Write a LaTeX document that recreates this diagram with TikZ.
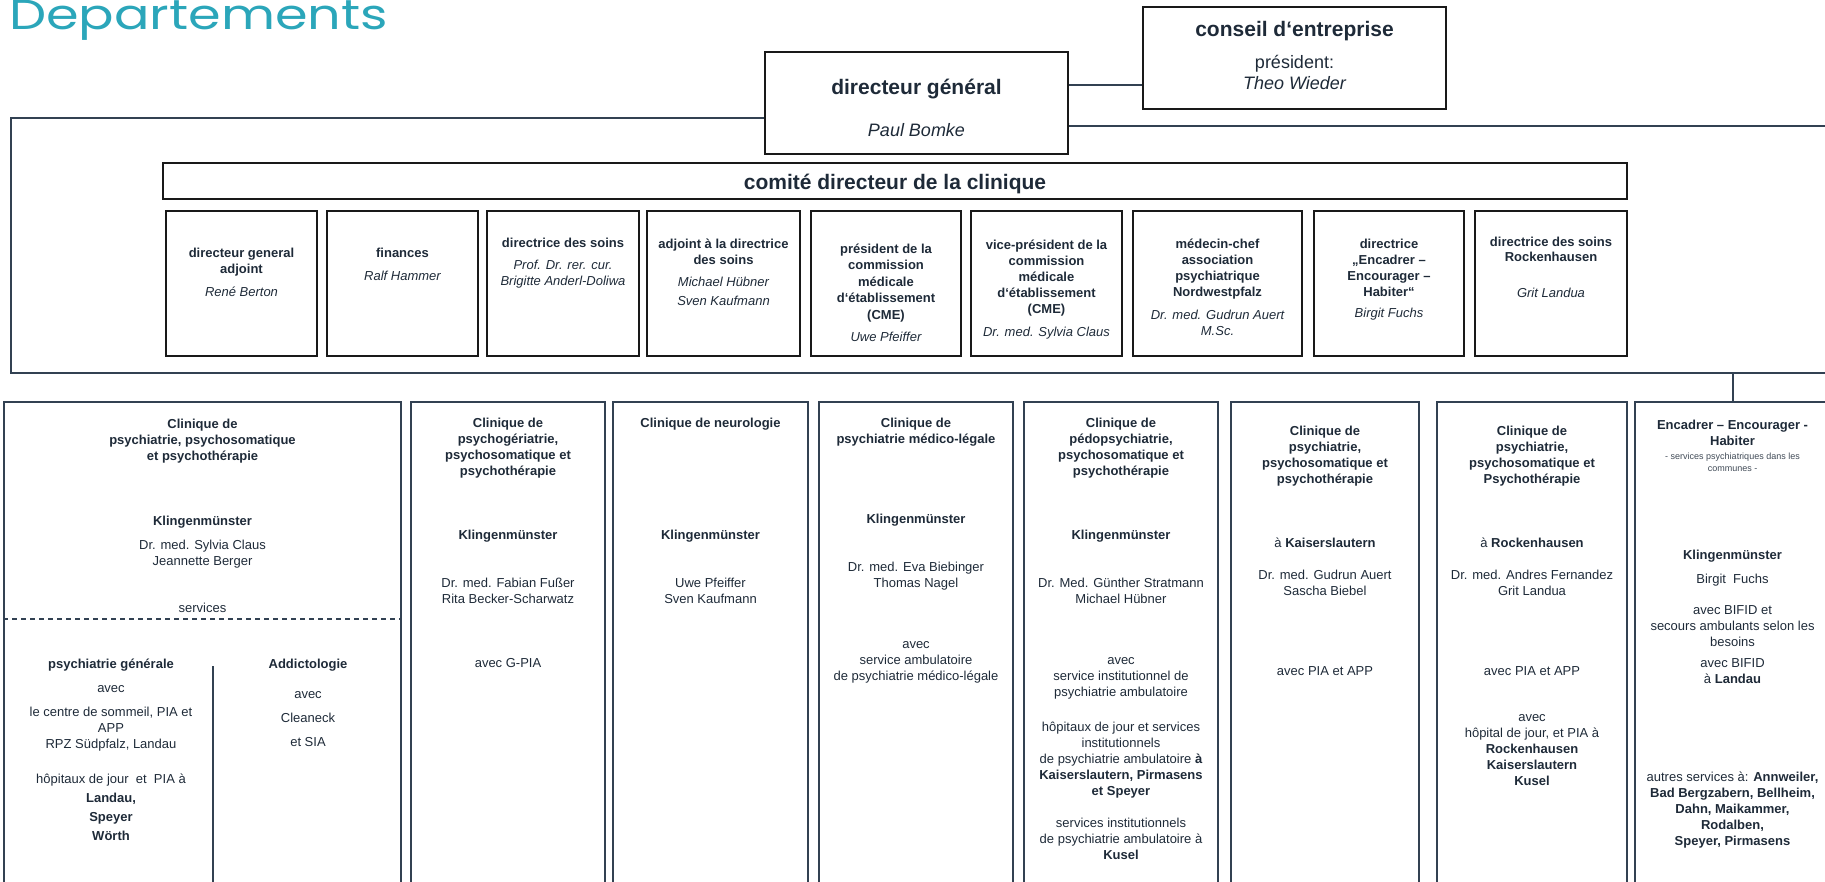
\documentclass[tikz,border=0pt]{standalone}
\usepackage{fontspec}
\setmainfont{Liberation Sans}
\newfontfamily\titlefont{Poppins}
\usetikzlibrary{fit, positioning}
\definecolor{inkSlate}{RGB}{30,42,56}
\definecolor{lineSlate}{RGB}{50,65,82}
\definecolor{titleTeal}{RGB}{43,166,186}

\begin{document}
\begin{tikzpicture}[
    x=1pt, y=-1pt,
    box/.style={rectangle, draw=black!90, line width=2pt, inner sep=0pt},
    colbox/.style={rectangle, draw=lineSlate, line width=2pt, inner sep=0pt},
    link/.style={draw=lineSlate, line width=2pt},
    txt/.style={inner sep=0pt, align=center, anchor=north, text=inkSlate, font=\fontsize{13}{16}\selectfont, execute at begin node={\rule{0pt}{10pt}}},
    bold/.style={txt, font=\fontsize{13}{16}\selectfont\bfseries},
    ital/.style={txt, font=\fontsize{13}{16}\selectfont\itshape},
    note/.style={inner sep=0pt, align=center, anchor=north, text=inkSlate!85, font=\fontsize{9}{12}\selectfont, execute at begin node={\rule{0pt}{7pt}}},
    big/.style={inner sep=0pt, anchor=base, text=inkSlate}
]
\useasboundingbox (0,0) rectangle (1825,881);

% Title
\node[anchor=base west, inner sep=0pt, text=titleTeal, font=\titlefont\fontsize{42}{42}\selectfont] (title) at (9,29) {\scalebox{1.25}[1]{Departements}};

% Top boxes
\node[box, fit={(765,52) (1068,154)}] (dg) {};
\node[box, fit={(1143,7) (1446,109)}] (cons) {};
\node[big, font=\fontsize{21}{21}\selectfont\bfseries] (dgT) at (916.5,94) {directeur général};
\node[big, font=\fontsize{18}{18}\selectfont\itshape] (dgN) at (916.5,136) {Paul Bomke};
\node[big, font=\fontsize{21}{21}\selectfont\bfseries] (consT) at (1294.5,36) {conseil d‘entreprise};
\node[big, font=\fontsize{18}{18}\selectfont] (consP) at (1294.5,68) {président:};
\node[big, font=\fontsize{18}{18}\selectfont\itshape] (consN) at (1294.5,89) {Theo Wieder};

% Comite
\node[box, fit={(163,163) (1627,199)}] (comite) {};
\node[big, font=\fontsize{21}{21}\selectfont\bfseries] (comT) at (895,189) {comité directeur de la clinique};

% Members of the comite
\node[box, fit={(166,211) (317,356)}] (m1) {};
\node[box, fit={(327,211) (478,356)}] (m2) {};
\node[box, fit={(487,211) (639,356)}] (m3) {};
\node[box, fit={(647,211) (800,356)}] (m4) {};
\node[box, fit={(811,211) (961,356)}] (m5) {};
\node[box, fit={(971,211) (1122,356)}] (m6) {};
\node[box, fit={(1133,211) (1302,356)}] (m7) {};
\node[box, fit={(1314,211) (1464,356)}] (m8) {};
\node[box, fit={(1475,211) (1627,356)}] (m9) {};

\node[bold, below=37.5pt of m1.north] (m1T) {directeur general\\adjoint};
\node[ital, below=76.5pt of m1.north] (m1N) {René Berton};
\node[bold, below=37.5pt of m2.north] (m2T) {finances};
\node[ital, below=60.5pt of m2.north] (m2N) {Ralf Hammer};
\node[bold, below=27.5pt of m3.north] (m3T) {directrice des soins};
\node[ital, below=49.5pt of m3.north] (m3N) {Prof. Dr. rer. cur.\\Brigitte Anderl-Doliwa};
\node[bold, below=28.5pt of m4.north] (m4T) {adjoint à la directrice\\des soins};
\node[ital, font=\fontsize{13}{19}\selectfont\itshape, below=66.5pt of m4.north] (m4N) {Michael Hübner\\Sven Kaufmann};
\node[bold, font=\fontsize{13}{16.5}\selectfont\bfseries, below=33.5pt of m5.north] (m5T) {président de la\\commission\\médicale\\d‘établissement\\(CME)};
\node[ital, below=121.5pt of m5.north] (m5N) {Uwe Pfeiffer};
\node[bold, below=29.5pt of m6.north] (m6T) {vice-président de la\\commission\\médicale\\d‘établissement\\(CME)};
\node[ital, below=116.5pt of m6.north] (m6N) {Dr. med. Sylvia Claus};
\node[bold, below=28.5pt of m7.north] (m7T) {médecin-chef\\association\\psychiatrique\\Nordwestpfalz};
\node[ital, below=99.5pt of m7.north] (m7N) {Dr. med. Gudrun Auert\\M.Sc.};
\node[bold, below=28.5pt of m8.north] (m8T) {directrice\\„Encadrer –\\Encourager –\\Habiter“};
\node[ital, below=97.5pt of m8.north] (m8N) {Birgit Fuchs};
\node[bold, font=\fontsize{13}{15.5}\selectfont\bfseries, below=26.5pt of m9.north] (m9T) {directrice des soins\\Rockenhausen};
\node[ital, below=77.5pt of m9.north] (m9N) {Grit Landua};

% Clinics
\node[colbox, fit={(4,402) (401,900)}] (c1) {};
\node[colbox, fit={(411,402) (605,900)}] (c2) {};
\node[colbox, fit={(613,402) (808,900)}] (c3) {};
\node[colbox, fit={(819,402) (1013,900)}] (c4) {};
\node[colbox, fit={(1024,402) (1218,900)}] (c5) {};
\node[colbox, fit={(1231,402) (1419,900)}] (c6) {};
\node[colbox, fit={(1437,402) (1627,900)}] (c7) {};
\node[colbox, fit={(1635,402) (1830,900)}] (c8) {};

% Connectors
\coordinate (dgR) at ([yshift=18pt]dg.east);
\draw[link] (dgR) -- (dgR -| cons.west);
\draw[link] ([yshift=-15pt]dg.west) -| (11,373) -- (1830,373);
\draw[link] ([yshift=-23pt]dg.east) -- ++(770,0);
\draw[link] (c8.north |- 0,373) -- (c8.north);

% Clinic 1
\node[bold, below=17.5pt of c1.north] (c1T) {Clinique de\\psychiatrie, psychosomatique\\et psychothérapie};
\node[bold, below=114.5pt of c1.north] (c1L) {Klingenmünster};
\node[txt, below=138.5pt of c1.north] (c1N) {Dr. med. Sylvia Claus\\Jeannette Berger};
\node[txt, below=201.5pt of c1.north] (c1S) {services};
\draw[draw=lineSlate, line width=1.2pt, dash pattern=on 5pt off 4pt] (c1.west |- 0,619) -- (c1.east |- 0,619);
\draw[draw=lineSlate, line width=1.5pt] (213,666) -- (213,900);
\node[bold] (genT) at (111,658.5) {psychiatrie générale};
\node[txt] (genA) at (111,682.5) {avec};
\node[txt] (genB) at (111,706.5) {le centre de sommeil, PIA et\\APP\\RPZ Südpfalz, Landau};
\node[txt, font=\fontsize{13}{19}\selectfont] (genC) at (111,773.5) {hôpitaux de jour~ et~ PIA à\\\textbf{Landau,}\\\textbf{Speyer}\\\textbf{Wörth}};
\node[bold] (addT) at (308,658.5) {Addictologie};
\node[txt, font=\fontsize{13}{24}\selectfont] (addA) at (308,691.5) {avec\\Cleaneck\\et SIA};

% Clinic 2
\node[bold, below=16.5pt of c2.north] (c2T) {Clinique de\\psychogériatrie,\\psychosomatique et\\psychothérapie};
\node[bold, below=128.5pt of c2.north] (c2L) {Klingenmünster};
\node[txt, below=176.5pt of c2.north] (c2N) {Dr. med. Fabian Fußer\\Rita Becker-Scharwatz};
\node[txt, below=256.5pt of c2.north] (c2A) {avec G-PIA};

% Clinic 3
\node[bold, below=16.5pt of c3.north] (c3T) {Clinique de neurologie};
\node[bold, below=128.5pt of c3.north] (c3L) {Klingenmünster};
\node[txt, below=176.5pt of c3.north] (c3N) {Uwe Pfeiffer\\Sven Kaufmann};

% Clinic 4
\node[bold, below=16.5pt of c4.north] (c4T) {Clinique de\\psychiatrie médico-légale};
\node[bold, below=112.5pt of c4.north] (c4L) {Klingenmünster};
\node[txt, below=160.5pt of c4.north] (c4N) {Dr. med. Eva Biebinger\\Thomas Nagel};
\node[txt, below=240.5pt of c4.north] (c4A) {avec\\service ambulatoire\\de psychiatrie médico-légale};

% Clinic 5
\node[bold, below=16.5pt of c5.north] (c5T) {Clinique de\\pédopsychiatrie,\\psychosomatique et\\psychothérapie};
\node[bold, below=128.5pt of c5.north] (c5L) {Klingenmünster};
\node[txt, below=176.5pt of c5.north] (c5N) {Dr. Med. Günther Stratmann\\Michael Hübner};
\node[txt, below=256.5pt of c5.north] (c5A) {avec\\service institutionnel de\\psychiatrie ambulatoire};
\node[txt, below=320.5pt of c5.north] (c5B) {hôpitaux de jour et services\\institutionnels\\de psychiatrie ambulatoire \textbf{à}\\\textbf{Kaiserslautern, Pirmasens}\\\textbf{et Speyer}};
\node[txt, below=416.5pt of c5.north] (c5C) {services institutionnels\\de psychiatrie ambulatoire à\\\textbf{Kusel}};

% Clinic 6
\node[bold, below=24.5pt of c6.north] (c6T) {Clinique de\\psychiatrie,\\psychosomatique et\\psychothérapie};
\node[txt, below=136.5pt of c6.north] (c6L) {à \textbf{Kaiserslautern}};
\node[txt, below=168.5pt of c6.north] (c6N) {Dr. med. Gudrun Auert\\Sascha Biebel};
\node[txt, below=264.5pt of c6.north] (c6A) {avec PIA et APP};

% Clinic 7
\node[bold, below=24.5pt of c7.north] (c7T) {Clinique de\\psychiatrie,\\psychosomatique et\\Psychothérapie};
\node[txt, below=136.5pt of c7.north] (c7L) {à \textbf{Rockenhausen}};
\node[txt, below=168.5pt of c7.north] (c7N) {Dr. med. Andres Fernandez\\Grit Landua};
\node[txt, below=264.5pt of c7.north] (c7A) {avec PIA et APP};
\node[txt, below=313.5pt of c7.north] (c7B) {avec\\hôpital de jour, et PIA à\\\textbf{Rockenhausen}\\\textbf{Kaiserslautern}\\\textbf{Kusel}};

% Encadrer - Encourager - Habiter
\node[bold, below=18.5pt of c8.north] (c8T) {Encadrer – Encourager -\\Habiter};
\node[note, below=52pt of c8.north] (c8S) {- services psychiatriques dans les\\communes -};
\node[bold, below=148.5pt of c8.north] (c8L) {Klingenmünster};
\node[txt, below=172.5pt of c8.north] (c8N) {Birgit~ Fuchs};
\node[txt, below=204.5pt of c8.north] (c8A) {avec BIFID et\\secours ambulants selon les\\besoins};
\node[txt, below=257.5pt of c8.north] (c8B) {avec BIFID\\à \textbf{Landau}};
\node[txt, below=370.5pt of c8.north] (c8C) {autres services à: \textbf{Annweiler,}\\\textbf{Bad Bergzabern, Bellheim,}\\\textbf{Dahn, Maikammer,}\\\textbf{Rodalben,}\\\textbf{Speyer, Pirmasens}};

\end{tikzpicture}
\end{document}
